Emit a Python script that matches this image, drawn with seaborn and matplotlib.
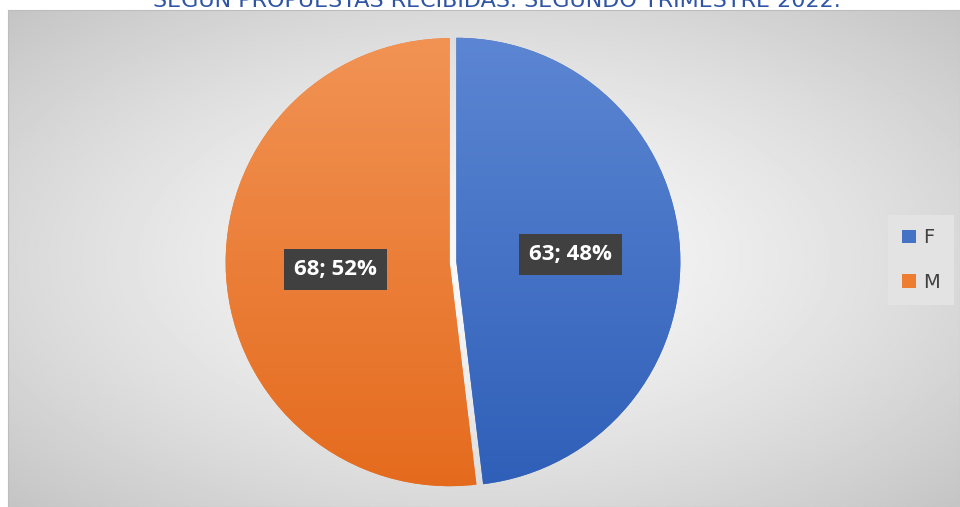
import numpy as np
import matplotlib
matplotlib.use("Agg")
import matplotlib.pyplot as plt
from matplotlib.colors import LinearSegmentedColormap
import seaborn as sns

# ── data ─────────────────────────────────────────────────────────────────────
categories = ["F", "M"]
counts = [63, 68]
title = "SEGÚN PROPUESTAS RECIBIDAS. SEGUNDO TRIMESTRE 2022."

# slice colours: (top, bottom) of the vertical gradient, plus a mid tone
grad_colors = {
    "F": ("#5E88D4", "#2D5DB7"),
    "M": ("#F29557", "#E4691B"),
}
mid_colors = ["#4472C4", "#ED7D31"]

sns.set_theme(style="white")
plt.rcParams["font.family"] = ["DejaVu Sans"]

W, H = 960, 507
fig = plt.figure(figsize=(W / 100, H / 100), dpi=100)
fig.patch.set_facecolor("white")

# ── background panel (radial grey gradient) ──────────────────────────────────
bg = fig.add_axes([8 / W, 0, (W - 8) / W, (H - 10) / H])
yy, xx = np.mgrid[-1:1:300j, -1:1:500j]
r = np.sqrt(xx ** 2 + yy ** 2) / np.sqrt(2)
shade = 0.975 - 0.205 * r ** 1.4
bg.imshow(shade, cmap="gray", vmin=0, vmax=1, aspect="auto",
          interpolation="bilinear")
bg.set_xticks([])
bg.set_yticks([])
for s in bg.spines.values():
    s.set_color("#BDBDBD")
    s.set_linewidth(0.8)

# ── pie ──────────────────────────────────────────────────────────────────────
cx, cy, R, pad = 453, 262, 224, 240
ax = fig.add_axes([(cx - pad) / W, (H - cy - pad) / H, 2 * pad / W, 2 * pad / H])
ax.patch.set_alpha(0)

total = sum(counts)


def fmt(p):
    return f"{round(p * total / 100)}; {p:.0f}%"


wedges, _, autotexts = ax.pie(
    counts, colors=mid_colors, startangle=90, counterclock=False,
    explode=[0.015, 0.015], autopct=fmt, pctdistance=0.51,
    wedgeprops=dict(linewidth=0),
    textprops=dict(color="white", fontsize=16, fontweight="bold",
                   family=["Open Sans", "DejaVu Sans"]),
)

for w, cat in zip(wedges, categories):
    top, bottom = grad_colors[cat]
    cm = LinearSegmentedColormap.from_list(cat, [bottom, top])
    im = ax.imshow(np.linspace(0, 1, 256).reshape(-1, 1), cmap=cm,
                   origin="lower", extent=(-1.1, 1.1, -1.1, 1.1),
                   aspect="auto", zorder=w.get_zorder() + 0.1)
    im.set_clip_path(w)

for t in autotexts:
    t.set_bbox(dict(boxstyle="square,pad=0.45", facecolor="#404040",
                    edgecolor="none"))
    t.set_zorder(5)

lim = pad / R
ax.set_xlim(-lim, lim)
ax.set_ylim(-lim, lim)
ax.set_axis_off()

# ── legend ───────────────────────────────────────────────────────────────────
leg = fig.legend(wedges, categories, loc="center",
                 bbox_to_anchor=(921 / W, 1 - 260 / H),
                 frameon=True, fancybox=False, facecolor="#E3E3E3",
                 edgecolor="none", framealpha=1, fontsize=14,
                 handlelength=0.7, handleheight=0.7, labelspacing=1.3,
                 borderpad=0.7, handletextpad=0.4)
for txt in leg.get_texts():
    txt.set_color("#404040")

# ── title (clipped at the top edge, as in the source) ────────────────────────
fig.text(0.518, 1 - 7 / H, title, ha="center", va="baseline",
         fontsize=16, color="#2F55A4")

fig.savefig("out.png", dpi=100)
